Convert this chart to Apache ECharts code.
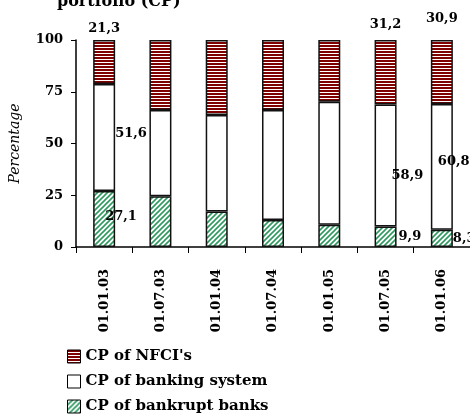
<!DOCTYPE html>
<html>
<head>
<meta charset="utf-8">
<script src="https://cdn.jsdelivr.net/npm/echarts@6/dist/echarts.min.js"></script>
<style>
html,body{margin:0;padding:0;background:#fff;}
#chart{width:470px;height:415px;}
</style>
</head>
<body>
<div id="chart"></div>
<script>
// ---- data ----
var dates = ['01.01.03','01.07.03','01.01.04','01.07.04','01.01.05','01.07.05','01.01.06'];
var bankrupt = [27.1, 24.5, 17.2, 13.0, 10.7, 9.9, 8.3];
var banking  = [51.6, 41.7, 46.6, 53.2, 59.5, 58.9, 60.8];
var nfci     = [21.3, 33.8, 36.2, 33.8, 29.8, 31.2, 30.9];
var yTicks = [0, 25, 50, 75, 100];
var seriesNames = ["CP of bankrupt banks", "CP of banking system", "CP of NFCI's"];
var titleText = 'portfolio (CP)';

// ---- patterns ----
function redPattern(){
  var c = document.createElement('canvas'); c.width = 4; c.height = 3;
  var g = c.getContext('2d');
  g.fillStyle = '#800000'; g.fillRect(0,0,4,3);
  g.fillStyle = '#ffffff'; g.fillRect(0,2,4,1);
  return c;
}
function greenPattern(){
  var c = document.createElement('canvas'); c.width = 5; c.height = 5;
  var g = c.getContext('2d');
  g.fillStyle = '#ffffff'; g.fillRect(0,0,5,5);
  g.strokeStyle = '#2f9a60'; g.lineWidth = 1.6;
  g.beginPath();
  g.moveTo(-1,6); g.lineTo(6,-1);
  g.moveTo(-1,1); g.lineTo(1,-1);
  g.moveTo(4,6); g.lineTo(6,4);
  g.stroke();
  return c;
}

var FONT = 'DejaVu Serif';
var labelStyle = {color:'#000', fontFamily: FONT, fontWeight:'bold', fontSize:13};
function fmt(p){ return String(p.value).replace('.', ','); }

// label placement per series index -> config
var labelCfg = {
  0: {0:{position:'right',distance:0,offset:[-10,-2]}, 5:{position:'right',distance:2,offset:[0,0]}, 6:{position:'right',distance:0,offset:[0,0]}},
  1: {0:{position:'right',distance:0,offset:[0,-4]}, 5:{position:'right',distance:0,offset:[-5,10]}, 6:{position:'right',distance:0,offset:[-15,-5]}},
  2: {0:{position:'top',distance:5,offset:[0,0]}, 5:{position:'top',distance:5,offset:[0,-4]}, 6:{position:'top',distance:5,offset:[0,-10]}}
};
function buildData(vals, si){
  return vals.map(function(v, i){
    var cfg = labelCfg[si][i];
    if (!cfg) return v;
    return {value: v, label: Object.assign({show:true, formatter: fmt}, labelStyle, cfg)};
  });
}

var fills = [{image: greenPattern(), repeat:'repeat'}, '#ffffff', {image: redPattern(), repeat:'repeat'}];
var valueSets = [bankrupt, banking, nfci];

var series = valueSets.map(function(vals, si){
  return {
    name: seriesNames[si],
    type: 'bar',
    stack: 'total',
    barWidth: 22,
    data: buildData(vals, si),
    itemStyle: {color: fills[si], borderColor:'#111', borderWidth:1.5},
    emphasis: {disabled:true},
    animation: false
  };
});

var chart = echarts.init(document.getElementById('chart'), null, {renderer:'canvas'});
chart.setOption({
  animation: false,
  backgroundColor: '#fff',
  graphic: [{
    type: 'text',
    x: 57, y: 10,
    silent: true,
    style: {text: titleText, fontFamily: FONT, fontWeight:'bold', fontSize:16, fill:'#000', verticalAlign:'bottom', align:'left'}
  }],
  grid: {left: 73, right: 0, top: 40, bottom: 168, containLabel:false},
  legend: {
    orient: 'vertical',
    left: 67, top: 349,
    padding: 0,
    itemWidth: 13, itemHeight: 13, itemGap: 10,
    icon: 'rect',
    data: [seriesNames[2], seriesNames[1], seriesNames[0]],
    textStyle: {fontFamily: FONT, fontWeight:'bold', fontSize:15, color:'#000'},
    itemStyle: {borderColor:'#000', borderWidth:1}
  },
  xAxis: {
    type: 'category',
    data: dates,
    axisLine: {lineStyle:{color:'#000', width:1.5}},
    axisTick: {show:true, length:6, lineStyle:{color:'#000'}},
    axisLabel: {rotate: 90, margin: 22, color:'#000', fontFamily: FONT, fontWeight:'bold', fontSize:13, interval:0}
  },
  yAxis: {
    type: 'value',
    min: yTicks[0], max: yTicks[yTicks.length-1], interval: 25,
    name: 'Percentage',
    nameLocation: 'middle',
    nameRotate: 90,
    nameGap: 54,
    nameTextStyle: {fontFamily: FONT, fontStyle:'italic', fontSize:14, color:'#000'},
    splitLine: {show:false},
    axisLine: {show:true, lineStyle:{color:'#000', width:1.5}},
    axisTick: {show:true, inside:false, length:5, lineStyle:{color:'#000'}},
    axisLabel: {margin: 13, color:'#000', fontFamily: FONT, fontWeight:'bold', fontSize:13}
  },
  series: series
});
</script>
</body>
</html>
